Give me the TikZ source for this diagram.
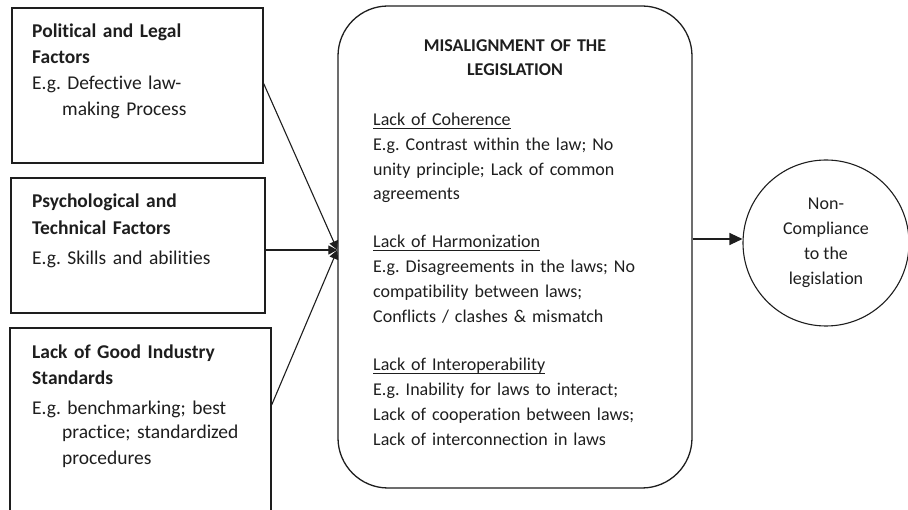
\documentclass[tikz,border=0pt]{standalone}
\usepackage{fontspec}
\setmainfont{Carlito}[Ligatures=NoCommon]
\usetikzlibrary{arrows.meta}
\newcommand\myul[1]{\setbox0\hbox{#1}\rlap{\rule[-3pt]{\wd0}{0.9pt}}#1}
\definecolor{ink}{HTML}{1E1E1E}
\tikzset{
  box/.style={draw=ink, line width=1.3pt, rectangle, inner sep=0pt},
  txt/.style={inner sep=0pt, anchor=base west, text width=#1, align=left, text=ink,
              font=\fontsize{19.5}{25.7}\selectfont},
  conn/.style={draw=ink, line width=1.1pt, -{Triangle[length=9pt,width=9pt]}},
  conntwo/.style={draw=ink, line width=1.1pt, -{Triangle[length=13pt,width=12pt]}},
}
\begin{document}
\begin{tikzpicture}[x=1pt,y=-1pt]
\useasboundingbox (0,0) rectangle (908,510);
\clip (0,0) rectangle (908,510);
% boxes
\node[box, minimum width=251pt, minimum height=155pt] (b1) at (137.5,85.5) {};
\node[box, minimum width=254pt, minimum height=135pt] (b2) at (138,245.5) {};
\node[box, minimum width=261pt, minimum height=192pt] (b3) at (140.5,424) {};
\node[box, rounded corners=50pt, minimum width=354pt, minimum height=482pt] (mid) at (515,247) {};
\node[draw=ink, line width=1.1pt, circle, minimum size=166pt, inner sep=0pt, align=center, text=ink,
      font=\fontsize{18}{25}\selectfont] (circ) at (826,243) {Non-\\Compliance\\to the\\legislation};
% texts
\node[txt=240pt] (t1) at (32,38) {\textbf{Political and Legal}\\\textbf{Factors}\\E.g.\ Defective law-\\\hspace*{30pt}making Process};
\node[txt=240pt] (t2) at (32,208) {\textbf{Psychological and}\\[1.3pt]\textbf{Technical Factors}\\[4.3pt]E.g.\ Skills and abilities};
\node[txt=250pt] (t3) at (32,359) {\textbf{Lack of Good Industry}\\[0.3pt]\textbf{Standards}\\[4.3pt]E.g.\ benchmarking; best\\[-1.7pt]\hspace*{30pt}practice; standardized\\[0.3pt]\hspace*{30pt}procedures};
\node[inner sep=0pt, anchor=base, text width=320pt, align=center, text=ink,
      font=\fontsize{18}{24}\selectfont] (t4) at (515,52) {\textbf{MISALIGNMENT OF THE}\\\textbf{LEGISLATION}};
\tikzset{txtc/.style={txt=310pt, font=\fontsize{18}{24.8}\selectfont}}
\node[txtc] (t5) at (373,125.5) {\myul{Lack of Coherence}\\E.g.\ Contrast within the law; No\\unity principle; Lack of common\\agreements};
\node[txtc] (t6) at (373,248) {\myul{Lack of Harmonization}\\E.g.\ Disagreements in the laws; No\\compatibility between laws;\\Conflicts / clashes \& mismatch};
\node[txtc] (t7) at (373,371) {\myul{Lack of Interoperability}\\E.g.\ Inability for laws to interact;\\Lack of cooperation between laws;\\Lack of interconnection in laws};
% connectors
\coordinate (conv) at ([yshift=-3pt]mid.west);
\draw[conn] ([yshift=2pt]b1.east) -- (conv);
\draw[conn] (b2.east |- conv) -- (conv);
\draw[conn] ([yshift=19pt]b3.east) -- (conv);
\coordinate (ra) at ([yshift=8pt]mid.east);
\draw[conntwo] (ra) -- (ra -| circ.west);
\end{tikzpicture}
\end{document}
